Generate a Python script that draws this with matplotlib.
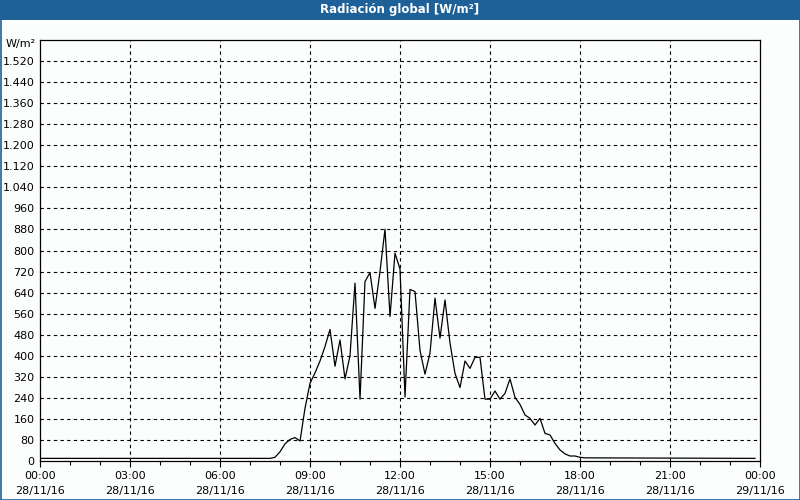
import matplotlib
matplotlib.use("Agg")
import matplotlib.pyplot as plt
from matplotlib.patches import Rectangle
from matplotlib.ticker import FuncFormatter

# Time of each sample in hours since 00:00 28/11/16 (10 minute readings)
hours = [0.0, 7.667, 7.833, 8.0, 8.167, 8.333, 8.5, 8.667, 8.833,
         9.0, 9.167, 9.333, 9.5, 9.667, 9.833, 10.0, 10.167, 10.333, 10.5,
         10.667, 10.833, 11.0, 11.167, 11.333, 11.5, 11.667, 11.833, 12.0,
         12.167, 12.333, 12.5, 12.667, 12.833, 13.0, 13.167, 13.333, 13.5,
         13.667, 13.833, 14.0, 14.167, 14.333, 14.5, 14.667, 14.833, 15.0,
         15.167, 15.333, 15.5, 15.667, 15.833, 16.0, 16.167, 16.333, 16.5,
         16.667, 16.833, 17.0, 17.167, 17.333, 17.5, 17.667, 17.833, 18.0,
         18.167, 23.833]
radiation = [10, 10, 14, 35, 65, 82, 89, 76, 200,
             295, 335, 380, 435, 500, 360, 460, 312, 400, 676,
             235, 682, 716, 580, 720, 881, 549, 790, 730,
             243, 652, 644, 420, 330, 410, 619, 467, 612,
             448, 333, 279, 380, 352, 394, 394, 235, 235,
             266, 235, 257, 312, 242, 215, 175, 162, 137,
             162, 105, 99, 67, 42, 27, 19, 19, 14,
             12, 10]

x_tick_hours = [0, 3, 6, 9, 12, 15, 18, 21, 24]
x_tick_labels = ["00:00\n28/11/16", "03:00\n28/11/16", "06:00\n28/11/16",
                 "09:00\n28/11/16", "12:00\n28/11/16", "15:00\n28/11/16",
                 "18:00\n28/11/16", "21:00\n28/11/16", "00:00\n29/11/16"]
y_ticks = list(range(0, 1521, 80))

blue = "#1d6198"
bg = "#fcfefe"

plt.rcParams["font.family"] = ["DejaVu Sans"]

fig = plt.figure(figsize=(8, 5), dpi=100, facecolor=bg)
ax = fig.add_axes([40 / 800, 39 / 500, 720 / 800, 421 / 500])
ax.set_facecolor(bg)

ax.plot(hours, radiation, color="black", linewidth=0.9)

ax.set_xlim(0, 24)
ax.set_ylim(0, 1600)

ax.set_xticks(x_tick_hours)
ax.set_xticklabels(x_tick_labels, fontsize=8, linespacing=1.65)
ax.set_xticks(range(0, 25), minor=True)
ax.tick_params(axis="x", which="both", direction="out", length=3, width=0.8, pad=3)
ax.tick_params(axis="x", which="major", length=4)

ax.set_yticks(y_ticks)
ax.yaxis.set_major_formatter(FuncFormatter(lambda v, p: f"{int(v):,}".replace(",", ".")))
ax.tick_params(axis="y", length=0, pad=4, labelsize=8)

# Dashed grid: every 80 W/m2 and every 3 hours
for v in y_ticks[1:]:
    ax.axhline(v, color="black", linewidth=0.8, linestyle=(0, (3, 3)), zorder=0)
for h in x_tick_hours[1:-1]:
    ax.axvline(h, color="black", linewidth=0.8, linestyle=(0, (3, 3)), zorder=0)

for s in ax.spines.values():
    s.set_linewidth(0.9)

ax.text(-0.006, 1585, "W/m²", transform=ax.get_yaxis_transform(),
        ha="right", va="center", fontsize=8)

# Title bar and window frame
fig.patches.append(Rectangle((0, 1 - 20 / 500), 1, 20 / 500, transform=fig.transFigure,
                             facecolor=blue, edgecolor="none", zorder=5))
fig.patches.append(Rectangle((0.5 / 800, 0.5 / 500), 799 / 800, 499 / 500,
                             transform=fig.transFigure, facecolor="none",
                             edgecolor=blue, linewidth=1.2, zorder=5))
fig.text(0.5, 1 - 10 / 500, "Radiación global [W/m²]", color="white",
         fontsize=8.5, fontweight="bold", ha="center", va="center", zorder=6)

fig.savefig("out.png", dpi=100, facecolor=bg)
